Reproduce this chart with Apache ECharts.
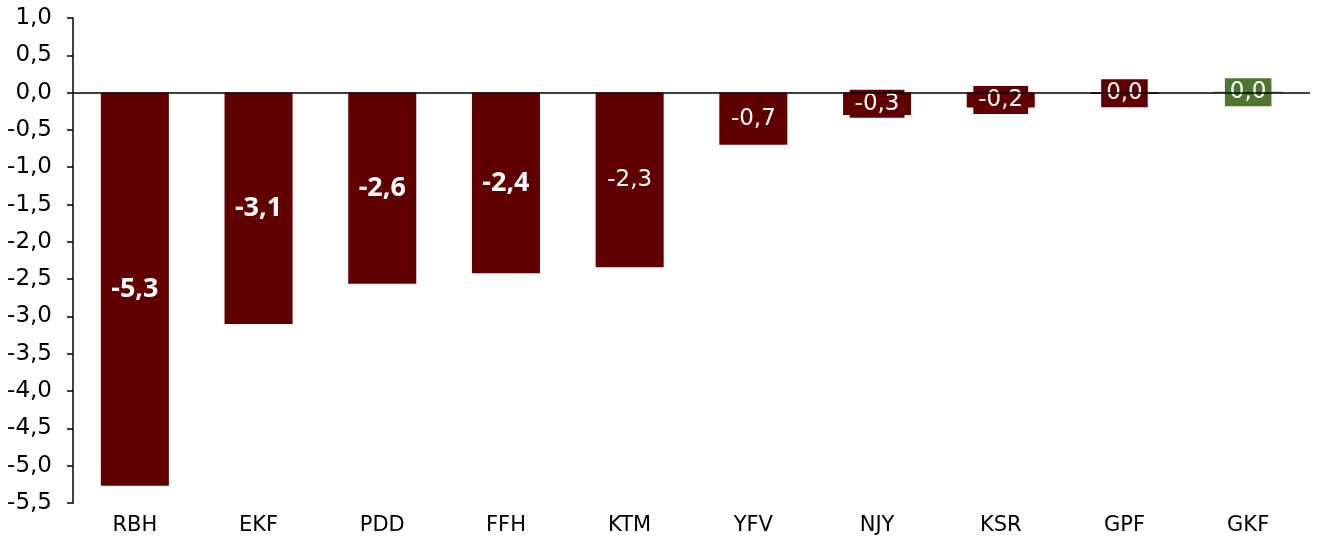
<!DOCTYPE html>
<html>
<head>
<meta charset="utf-8">
<script src="https://cdn.jsdelivr.net/npm/echarts@6/dist/echarts.min.js"></script>
<style>
  html, body { margin: 0; padding: 0; background: #fff; }
  #chart { width: 1318px; height: 538px; }
</style>
</head>
<body>
<div id="chart"></div>
<script>
// categories and values
var categories = ['RBH', 'EKF', 'PDD', 'FFH', 'KTM', 'YFV', 'NJY', 'KSR', 'GPF', 'GKF'];
var values = [-5.27, -3.1, -2.56, -2.42, -2.34, -0.7, -0.3, -0.2, -0.02, 0.01];
var yTicks = { min: -5.5, max: 1.0, step: 0.5 };

var RED = '#600000';
var GREEN = '#4d772e';
var FONT = '"DejaVu Sans", sans-serif';
var BOLD_FONT = '"Noto Sans", sans-serif';

function fmt(v) {
    if (Math.abs(v) < 0.05) return '0,0';
    return v.toFixed(1).replace('.', ',');
}

var chart = echarts.init(document.getElementById('chart'));

var seriesData = values.map(function (v, i) {
    var color = v > 0 ? GREEN : RED;
    var label = i < 4
        ? { fontWeight: 'bold', fontFamily: BOLD_FONT, fontSize: 27 }
        : { fontWeight: 'normal', fontFamily: FONT, fontSize: 23 };
    // small bars get a filled box behind the label
    if (i >= 6) {
        label.backgroundColor = color;
        label.padding = [3, 5, 2, 5];
    }
    return { value: v, itemStyle: { color: color }, label: label };
});

chart.setOption({
    animation: false,
    grid: { left: 73, right: 8, top: 18, bottom: 35 },
    xAxis: {
        type: 'category',
        data: categories,
        position: 'bottom',
        axisLine: { show: false },
        axisTick: { show: false },
        axisLabel: { color: '#000', fontSize: 21, fontFamily: FONT, margin: 12 }
    },
    yAxis: {
        type: 'value',
        min: yTicks.min,
        max: yTicks.max,
        interval: yTicks.step,
        splitLine: { show: false },
        axisLine: { show: true, lineStyle: { color: '#000', width: 1.5 } },
        axisTick: { show: true, length: 6, lineStyle: { color: '#000', width: 1.5 } },
        axisLabel: {
            color: '#000', fontSize: 23, fontFamily: FONT, margin: 21,
            formatter: function (v) { return fmt(v); }
        }
    },
    series: [{
        type: 'bar',
        data: seriesData,
        barWidth: '55%',
        label: {
            show: true,
            position: 'inside',
            color: '#fff',
            formatter: function (p) { return fmt(p.value); }
        },
        markLine: {
            silent: true,
            symbol: 'none',
            label: { show: false },
            lineStyle: { color: '#000', width: 1.5, type: 'solid' },
            data: [{ yAxis: 0 }]
        }
    }]
});
</script>
</body>
</html>
